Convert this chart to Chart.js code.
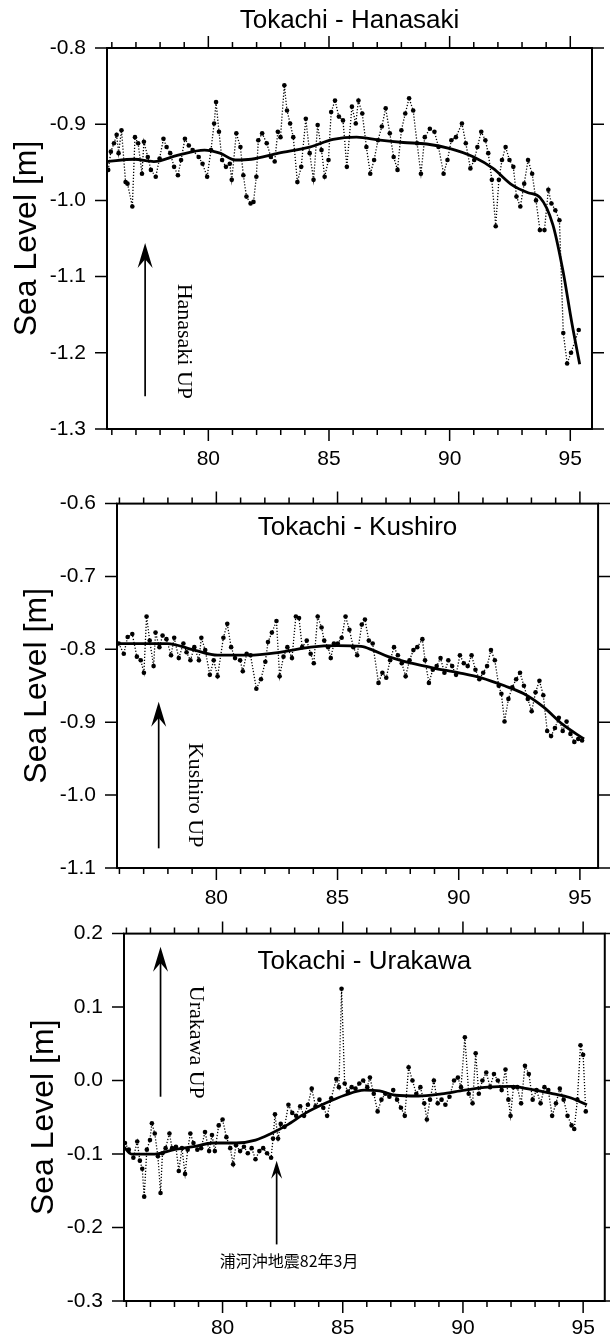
<!DOCTYPE html>
<html>
<head>
<meta charset="utf-8">
<script src="https://cdn.jsdelivr.net/npm/chart.js@4.4.1/dist/chart.umd.min.js"></script>
<style>
  body { margin: 0; background: #fff; }
  #wrap { position: relative; width: 610px; height: 1339px; overflow: hidden; }
  canvas { position: absolute; left: 0; }
</style>
</head>
<body>
<div id="wrap">
  <canvas id="c1" width="610" height="480" style="top:0px"></canvas>
  <canvas id="c2" width="610" height="445" style="top:470px"></canvas>
  <canvas id="c3" width="610" height="439" style="top:900px"></canvas>
</div>
<script>
// ---- data (x = year 19xx, y = sea level in m) ----
const majorYears = [80, 85, 90, 95];

// Tokachi - Hanasaki, monthly-ish points
const hanaYears = [75.85,75.96,76.09,76.20,76.28,76.40,76.57,76.65,76.85,76.96,
  77.09,77.25,77.33,77.49,77.62,77.82,77.98,78.14,78.27,78.42,
  78.58,78.74,78.87,79.03,79.19,79.35,79.60,79.76,79.95,80.11,
  80.24,80.32,80.44,80.57,80.73,80.89,80.97,81.16,81.33,81.45,
  81.58,81.75,81.87,81.99,82.07,82.23,82.42,82.59,82.75,82.88,
  82.99,83.15,83.26,83.39,83.52,83.69,83.85,84.04,84.20,84.36,
  84.53,84.69,84.82,84.98,85.09,85.25,85.41,85.58,85.74,85.95,
  86.11,86.22,86.38,86.55,86.71,86.87,87.03,87.19,87.35,87.52,
  87.68,87.84,88.00,88.16,88.32,88.49,88.65,88.81,88.97,89.18,
  89.37,89.54,89.75,89.91,90.07,90.26,90.51,90.67,90.86,91.02,
  91.15,91.31,91.48,91.60,91.75,91.91,92.04,92.17,92.32,92.48,
  92.64,92.77,92.93,93.09,93.25,93.42,93.58,93.74,93.93,94.09,
  94.22,94.38,94.55,94.71,94.87,95.03,95.35];
const hanaLevels = [-0.960,-0.936,-0.925,-0.914,-0.938,-0.908,-0.976,-0.978,-1.008,-0.917,
  -0.925,-0.965,-0.923,-0.943,-0.960,-0.969,-0.945,-0.919,-0.930,-0.938,
  -0.956,-0.967,-0.947,-0.919,-0.928,-0.934,-0.943,-0.952,-0.969,-0.934,
  -0.899,-0.871,-0.910,-0.947,-0.956,-0.952,-0.973,-0.912,-0.930,-0.967,
  -0.995,-1.004,-1.002,-0.969,-0.921,-0.912,-0.925,-0.943,-0.949,-0.910,
  -0.917,-0.849,-0.882,-0.899,-0.917,-0.976,-0.956,-0.893,-0.938,-0.973,
  -0.901,-0.934,-0.969,-0.947,-0.884,-0.869,-0.890,-0.895,-0.956,-0.877,
  -0.899,-0.869,-0.886,-0.930,-0.965,-0.947,-0.921,-0.903,-0.879,-0.912,
  -0.943,-0.960,-0.908,-0.886,-0.866,-0.882,-0.925,-0.965,-0.917,-0.906,
  -0.910,-0.930,-0.965,-0.947,-0.921,-0.917,-0.899,-0.925,-0.958,-0.947,
  -0.930,-0.910,-0.921,-0.938,-0.973,-1.034,-0.973,-0.947,-0.930,-0.947,
  -0.956,-0.995,-1.008,-0.978,-0.947,-0.965,-1.000,-1.039,-1.039,-0.986,
  -1.004,-1.013,-1.026,-1.174,-1.214,-1.200,-1.170];
const hanaTrendYears = [75.8,76.93,77.74,78.71,79.84,80.48,81.13,81.78,82.91,84.2,
  85.17,86.14,87.11,88.08,89.05,90.02,91.0,91.8,92.6,93.25,93.74,94.28,94.7,95.06,95.39];
const hanaTrend = [-0.949,-0.946,-0.949,-0.941,-0.934,-0.938,-0.947,-0.946,-0.938,-0.930,
  -0.920,-0.917,-0.921,-0.924,-0.926,-0.932,-0.943,-0.958,-0.980,-0.990,-0.996,-1.032,-1.093,-1.160,-1.215];

// Tokachi - Kushiro
const kushYears = [75.97,76.18,76.34,76.53,76.72,76.88,77.01,77.12,77.25,77.41,
  77.49,77.65,77.78,77.94,78.13,78.26,78.45,78.64,78.77,78.93,
  79.09,79.28,79.38,79.54,79.73,79.89,80.05,80.29,80.45,80.61,
  80.77,80.98,81.09,81.25,81.41,81.65,81.84,82.02,82.13,82.29,
  82.48,82.61,82.77,82.93,83.12,83.28,83.41,83.54,83.73,83.89,
  84.02,84.18,84.34,84.45,84.61,84.72,84.85,85.01,85.17,85.33,
  85.49,85.65,85.81,86.00,86.13,86.29,86.45,86.69,86.85,87.01,
  87.17,87.33,87.49,87.65,87.81,87.97,88.13,88.29,88.50,88.61,
  88.77,88.93,89.09,89.25,89.41,89.57,89.73,89.89,90.05,90.21,
  90.37,90.53,90.69,90.85,91.01,91.17,91.33,91.49,91.65,91.76,
  91.89,92.05,92.21,92.37,92.53,92.69,92.85,93.01,93.17,93.33,
  93.49,93.65,93.81,93.97,94.13,94.29,94.45,94.61,94.77,94.93,95.09];
const kushLevels = [-0.792,-0.806,-0.783,-0.779,-0.810,-0.815,-0.832,-0.755,-0.788,-0.823,
  -0.777,-0.797,-0.781,-0.786,-0.808,-0.784,-0.812,-0.792,-0.804,-0.815,
  -0.797,-0.815,-0.784,-0.801,-0.835,-0.815,-0.837,-0.784,-0.765,-0.797,
  -0.812,-0.815,-0.830,-0.806,-0.808,-0.854,-0.841,-0.817,-0.790,-0.777,
  -0.761,-0.837,-0.810,-0.797,-0.812,-0.755,-0.757,-0.797,-0.788,-0.806,
  -0.819,-0.755,-0.770,-0.788,-0.797,-0.812,-0.792,-0.792,-0.784,-0.755,
  -0.773,-0.797,-0.808,-0.766,-0.759,-0.788,-0.792,-0.846,-0.832,-0.839,
  -0.815,-0.797,-0.808,-0.819,-0.837,-0.815,-0.801,-0.797,-0.786,-0.815,
  -0.846,-0.828,-0.823,-0.812,-0.832,-0.815,-0.823,-0.835,-0.808,-0.819,
  -0.823,-0.808,-0.828,-0.841,-0.832,-0.823,-0.801,-0.815,-0.850,-0.861,
  -0.899,-0.868,-0.852,-0.841,-0.832,-0.850,-0.868,-0.885,-0.859,-0.843,
  -0.863,-0.912,-0.919,-0.908,-0.894,-0.912,-0.899,-0.916,-0.927,-0.923,-0.925];
const kushTrendYears = [75.89,77.97,79.09,80.05,81.33,82.61,83.89,85.0,85.97,86.45,
  87.09,88.05,89.01,89.97,90.93,91.89,92.69,93.49,94.29,95.17];
const kushTrend = [-0.792,-0.792,-0.801,-0.808,-0.808,-0.804,-0.797,-0.795,-0.796,-0.801,
  -0.810,-0.819,-0.826,-0.832,-0.839,-0.850,-0.861,-0.879,-0.903,-0.923];

// Tokachi - Urakawa
const uraYears = [75.94,76.10,76.29,76.45,76.56,76.66,76.74,76.85,76.98,77.06,
  77.18,77.31,77.42,77.50,77.63,77.79,77.90,78.06,78.18,78.31,
  78.44,78.55,78.66,78.79,78.95,79.11,79.27,79.44,79.56,79.68,
  79.84,80.00,80.16,80.32,80.44,80.56,80.73,80.89,81.05,81.21,
  81.37,81.53,81.69,81.85,82.02,82.10,82.18,82.31,82.42,82.58,
  82.74,82.90,83.06,83.23,83.39,83.55,83.71,83.87,84.03,84.19,
  84.35,84.52,84.73,84.84,84.95,85.08,85.21,85.37,85.53,85.69,
  85.85,86.02,86.13,86.29,86.45,86.61,86.77,86.94,87.10,87.26,
  87.42,87.58,87.74,87.90,88.06,88.23,88.39,88.50,88.63,88.79,
  88.95,89.11,89.27,89.44,89.63,89.79,89.92,90.08,90.24,90.40,
  90.53,90.66,90.81,90.97,91.13,91.29,91.45,91.61,91.77,91.89,
  91.98,92.10,92.26,92.42,92.58,92.74,92.90,93.06,93.23,93.39,
  93.55,93.71,93.87,94.03,94.19,94.35,94.52,94.63,94.76,94.89,95.00,95.11];
const uraLevels = [-0.085,-0.094,-0.105,-0.083,-0.109,-0.120,-0.158,-0.094,-0.081,-0.058,
  -0.072,-0.103,-0.153,-0.099,-0.092,-0.072,-0.092,-0.090,-0.123,-0.092,
  -0.127,-0.094,-0.072,-0.085,-0.094,-0.092,-0.070,-0.096,-0.074,-0.096,
  -0.061,-0.053,-0.077,-0.092,-0.114,-0.088,-0.096,-0.090,-0.099,-0.092,
  -0.107,-0.096,-0.092,-0.099,-0.105,-0.079,-0.046,-0.079,-0.059,-0.063,
  -0.033,-0.044,-0.048,-0.035,-0.048,-0.033,-0.011,-0.035,-0.026,-0.037,
  -0.048,-0.024,0.002,-0.009,0.125,-0.004,-0.015,-0.009,-0.011,-0.004,
  0.000,-0.009,0.004,-0.018,-0.042,-0.026,-0.018,-0.022,-0.013,-0.026,
  -0.037,-0.048,0.018,0.000,-0.018,-0.009,-0.031,-0.053,-0.026,0.000,
  -0.031,-0.026,-0.033,-0.022,0.000,0.004,-0.009,0.059,-0.018,-0.031,
  0.037,-0.018,0.000,0.011,-0.009,0.009,0.000,-0.013,0.015,-0.026,
  -0.048,-0.009,-0.009,-0.031,0.020,0.009,-0.026,-0.013,-0.031,-0.009,
  -0.013,-0.048,-0.031,-0.011,-0.026,-0.048,-0.061,-0.066,-0.026,0.048,0.035,-0.042];
const uraTrendYears = [75.89,76.21,77.18,77.98,78.79,79.6,80.56,81.37,82.02,82.66,
  83.47,84.27,85.08,85.89,86.53,87.18,88.15,89.11,90.08,91.05,92.02,92.66,93.63,94.44,95.16];
const uraTrend = [-0.090,-0.100,-0.100,-0.094,-0.090,-0.085,-0.085,-0.081,-0.072,-0.061,
  -0.044,-0.031,-0.020,-0.013,-0.014,-0.020,-0.021,-0.018,-0.013,-0.009,-0.008,-0.011,-0.017,-0.023,-0.033];

// ---- panels: layout + annotations ----
const panels = [
  { id: 'c1', title: 'Tokachi - Hanasaki', titleDy: -27,
    years: hanaYears, levels: hanaLevels, trendYears: hanaTrendYears, trend: hanaTrend,
    xMin: 75.8, xMax: 95.9, yMin: -1.3, yMax: -0.8,
    padTop: 48, padRight: 18, yAxisW: 107, xAxisH: 51, xPad: 18,
    arrows: [{ x: 77.38, from: -1.257, to: -1.056, w: 15, h: 25 }],
    notes: [{ text: 'Hanasaki UP', x: 78.98, y: -1.185, rot: true }] },
  { id: 'c2', title: 'Tokachi - Kushiro', titleDy: 24,
    years: kushYears, levels: kushLevels, trendYears: kushTrendYears, trend: kushTrend,
    xMin: 75.9, xMax: 95.75, yMin: -1.1, yMax: -0.6,
    padTop: 22, padRight: 11, yAxisW: 117, xAxisH: 47, xPad: 18,
    arrows: [{ x: 77.62, from: -1.073, to: -0.872, w: 15, h: 25 }],
    notes: [{ text: 'Kushiro UP', x: 79.09, y: -1.0, rot: true }] },
  { id: 'c3', title: 'Tokachi - Urakawa', titleDy: 28,
    years: uraYears, levels: uraLevels, trendYears: uraTrendYears, trend: uraTrend,
    xMin: 75.9, xMax: 95.9, yMin: -0.3, yMax: 0.2,
    padTop: 20, padRight: 4, yAxisW: 124, xAxisH: 38, xPad: 15,
    arrows: [{ x: 77.42, from: -0.022, to: 0.182, w: 15, h: 25 },
             { x: 82.25, from: -0.223, to: -0.109, w: 11, h: 18 }],
    notes: [{ text: 'Urakawa UP', x: 78.87, y: 0.052, rot: true },
            { text: '浦河沖地震82年3月', x: 82.77, y: -0.245, rot: false }] }
];

Chart.defaults.font.family = '"Liberation Sans", Arial, sans-serif';
Chart.defaults.color = '#000';

const pairs = (xs, ys) => xs.map((v, i) => ({ x: v, y: ys[i] }));

function drawArrow(ctx, px, yFrom, yTo, w, h) {
  ctx.lineWidth = 1.7;
  ctx.beginPath();
  ctx.moveTo(px, yFrom);
  ctx.lineTo(px, yTo + h * 0.6);
  ctx.stroke();
  ctx.beginPath();
  ctx.moveTo(px, yTo);
  ctx.lineTo(px + w / 2, yTo + h);
  ctx.lineTo(px, yTo + h * 0.65);
  ctx.lineTo(px - w / 2, yTo + h);
  ctx.closePath();
  ctx.fill();
}

// frame, outer ticks, titles and notes
const framePlugin = p => ({
  id: 'frame',
  afterDraw(chart) {
    const { ctx, chartArea: a, scales: { x, y } } = chart;
    ctx.save();
    ctx.strokeStyle = '#000';
    ctx.fillStyle = '#000';
    ctx.lineWidth = 2;
    ctx.strokeRect(a.left, a.top, a.right - a.left, a.bottom - a.top);

    ctx.lineWidth = 1.5;
    ctx.beginPath();
    for (let yr = Math.ceil(p.xMin); yr <= Math.floor(p.xMax); yr++) {
      const px = x.getPixelForValue(yr);
      const len = yr % 5 === 0 ? 12 : 6;
      ctx.moveTo(px, a.bottom); ctx.lineTo(px, a.bottom + len);
      ctx.moveTo(px, a.top); ctx.lineTo(px, a.top - len);
    }
    y.ticks.forEach(t => {
      const py = y.getPixelForValue(t.value);
      ctx.moveTo(a.left - 12, py); ctx.lineTo(a.left, py);
      ctx.moveTo(a.right, py); ctx.lineTo(a.right + 12, py);
    });
    ctx.stroke();

    ctx.textAlign = 'center';
    ctx.textBaseline = 'middle';
    ctx.font = '26px "Liberation Sans", Arial, sans-serif';
    ctx.fillText(p.title, (a.left + a.right) / 2, a.top + p.titleDy);

    ctx.save();
    ctx.translate(a.left - 80, (a.top + a.bottom) / 2);
    ctx.rotate(-Math.PI / 2);
    ctx.font = '32px "Liberation Sans", Arial, sans-serif';
    ctx.fillText('Sea Level [m]', 0, 0);
    ctx.restore();

    p.arrows.forEach(ar => drawArrow(ctx, x.getPixelForValue(ar.x),
      y.getPixelForValue(ar.from), y.getPixelForValue(ar.to), ar.w, ar.h));

    p.notes.forEach(n => {
      ctx.save();
      ctx.translate(x.getPixelForValue(n.x), y.getPixelForValue(n.y));
      if (n.rot) {
        ctx.rotate(Math.PI / 2);
        ctx.font = '22px "Liberation Serif", "Times New Roman", serif';
      } else {
        ctx.font = '16px "Noto Sans CJK JP", sans-serif';
      }
      ctx.fillText(n.text, 0, 0);
      ctx.restore();
    });
    ctx.restore();
  }
});

function buildChart(p) {
  return new Chart(document.getElementById(p.id), {
    type: 'line',
    data: {
      datasets: [
        { data: pairs(p.years, p.levels), borderColor: '#000', borderWidth: 1.3,
          borderDash: [1.2, 1.8], pointRadius: 2.3, pointBackgroundColor: '#000',
          pointBorderWidth: 0, tension: 0, order: 2 },
        { data: pairs(p.trendYears, p.trend), borderColor: '#000', borderWidth: 2.8,
          pointRadius: 0, cubicInterpolationMode: 'monotone', order: 1 }
      ]
    },
    options: {
      responsive: false,
      animation: false,
      events: [],
      layout: { padding: { top: p.padTop, right: p.padRight, left: 0, bottom: 0 } },
      plugins: { legend: { display: false }, tooltip: { enabled: false } },
      scales: {
        x: {
          type: 'linear', min: p.xMin, max: p.xMax,
          grid: { display: false, drawTicks: false }, border: { display: false },
          afterBuildTicks: axis => { axis.ticks = majorYears.map(v => ({ value: v })); },
          afterFit: axis => { axis.height = p.xAxisH; },
          ticks: { padding: p.xPad, autoSkip: false, maxRotation: 0,
                   font: { size: 21 }, color: '#000', callback: v => String(v) }
        },
        y: {
          min: p.yMin, max: p.yMax,
          grid: { display: false, drawTicks: false }, border: { display: false },
          afterFit: axis => { axis.width = p.yAxisW; },
          ticks: { stepSize: 0.1, padding: 21, font: { size: 21 }, color: '#000',
                   callback: v => (Math.abs(v) < 1e-9 ? 0 : v).toFixed(1) }
        }
      }
    },
    plugins: [framePlugin(p)]
  });
}

panels.forEach(buildChart);
</script>
</body>
</html>
